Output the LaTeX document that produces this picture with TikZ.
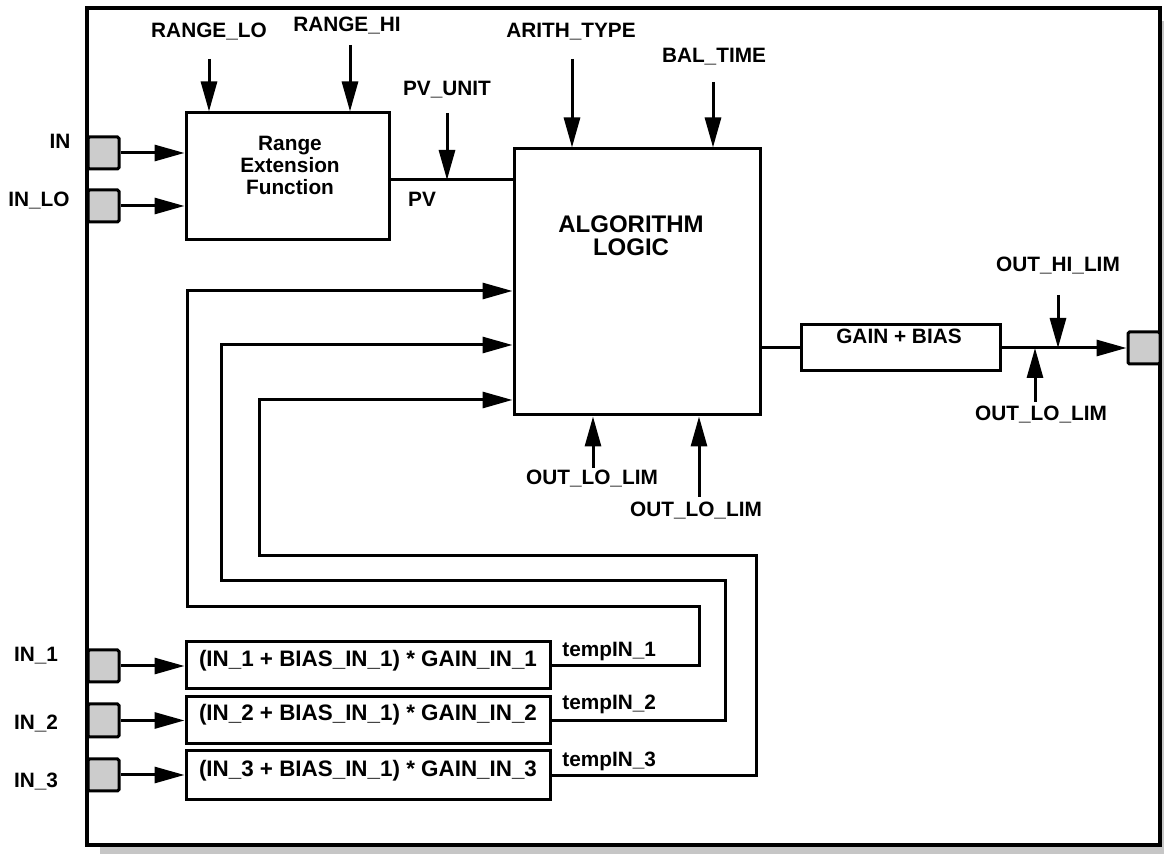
\documentclass[tikz,border=0pt]{standalone}
\usepackage{fontspec}
\setmainfont{Liberation Sans}
\usetikzlibrary{arrows.meta,fit}
\begin{document}
\begin{tikzpicture}[x=0.5pt,y=-0.5pt,
  lbl/.style={font=\fontsize{10.4}{11}\selectfont\bfseries, inner sep=0pt, anchor=base},
  box/.style={draw, line width=1.5pt, fill=white, inner sep=0pt},
  port/.style={draw, line width=1.5pt, fill=gray!40, inner sep=0pt, rounded corners=0.8pt},
  wire/.style={line width=1.5pt},
  arr/.style={wire, -{Triangle[length=15pt,width=8pt]}},
  formula/.style={box, font=\fontsize{11.2}{12}\selectfont\bfseries}
]
\useasboundingbox (0,0) rectangle (1164,854);
\fill[white] (0,0) rectangle (1164,854);
% frame with shadow
\fill[gray!45] (100,21) rectangle (1173,858);
\node[box, line width=2pt, fit={(87,8)(1160,845)}] (frame) {};

% ports
\node[port, fit={(88,137)(119,169)}] (pin) {};
\node[port, fit={(88,190)(119,222)}] (pinlo) {};
\node[port, fit={(88,650)(119,682)}] (pin1) {};
\node[port, fit={(88,704)(119,737)}] (pin2) {};
\node[port, fit={(88,759)(119,791)}] (pin3) {};
\node[port, fit={(1128,332)(1160,364)}] (pout) {};

% boxes
\node[box, fit={(186,113)(389,240)}] (range) {};
\node[box, fit={(514,149)(760,415)}] (alg) {};
\node[box, fit={(801,325)(1000,371)}] (gain) {};
\node[formula, fit={(186,642)(550,689)}] (b1) {\raisebox{-3.5pt}{(IN\_1 + BIAS\_IN\_1) * GAIN\_IN\_1}};
\node[formula, fit={(186,697)(550,744)}] (b2) {\raisebox{-2.5pt}{(IN\_2 + BIAS\_IN\_1) * GAIN\_IN\_2}};
\node[formula, fit={(186,751)(550,800)}] (b3) {\raisebox{-3pt}{(IN\_3 + BIAS\_IN\_1) * GAIN\_IN\_3}};

% box texts
\node[font=\fontsize{10.4}{11}\selectfont\bfseries, align=center, inner sep=0pt] (rtext) at (290,165) {Range\\Extension\\Function};
\node[font=\fontsize{12}{11.5}\selectfont\bfseries, align=center, inner sep=0pt] (atext) at (631,236) {ALGORITHM\\LOGIC};
\node[lbl] (gtext) at (899,344) {GAIN + BIAS};

% labels
\node[lbl] (lrlo) at (209,38) {RANGE\_LO};
\node[lbl] (lrhi) at (347,32) {RANGE\_HI};
\node[lbl] (lpvu) at (447,96) {PV\_UNIT};
\node[lbl] (lari) at (571,38) {ARITH\_TYPE};
\node[lbl] (lbal) at (714,63) {BAL\_TIME};
\node[lbl] (lpv) at (422,207) {PV};
\node[lbl] (lin) at (60,149) {IN};
\node[lbl] (linlo) at (39,207) {IN\_LO};
\node[lbl] (lohl) at (1058,272) {OUT\_HI\_LIM};
\node[lbl] (loll) at (1041,421) {OUT\_LO\_LIM};
\node[lbl] (lol1) at (592,485) {OUT\_LO\_LIM};
\node[lbl] (lol2) at (696,517) {OUT\_LO\_LIM};
\node[lbl] (lin1) at (36,662) {IN\_1};
\node[lbl] (lin2) at (36,730) {IN\_2};
\node[lbl] (lin3) at (36,788) {IN\_3};
\node[lbl, anchor=base west] (lt1) at (562,657) {tempIN\_1};
\node[lbl, anchor=base west] (lt2) at (562,710) {tempIN\_2};
\node[lbl, anchor=base west] (lt3) at (562,767) {tempIN\_3};

% free ends
\coordinate (crlo) at (209,59);
\coordinate (crhi) at (350,45);
\coordinate (cpvu) at (447,113);
\coordinate (pvj) at (447,180);
\coordinate (cari) at (572,59);
\coordinate (cbal) at (713,82);
\coordinate (col1) at (593,468);
\coordinate (col2) at (699,497);
\coordinate (cohl) at (1058,295);
\coordinate (coll) at (1035,402);
\coordinate (t1) at (699,607);
\coordinate (f1) at (187,291);
\coordinate (t2) at (725,581);
\coordinate (f2) at (221,345);
\coordinate (t3) at (756,556);
\coordinate (f3) at (259,400);

% input arrows
\draw[arr] (pin.east) -- (pin.east -| range.west);
\draw[arr] (pinlo.east) -- (pinlo.east -| range.west);
\draw[arr] (pin1.east) -- (pin1.east -| b1.west);
\draw[arr] (pin2.east) -- (pin2.east -| b2.west);
\draw[arr] (pin3.east) -- (pin3.east -| b3.west);

% parameter arrows
\draw[arr] (crlo) -- (crlo |- range.north);
\draw[arr] (crhi) -- (crhi |- range.north);
\draw[arr] (cpvu) -- (pvj);
\draw[arr] (cari) -- (cari |- alg.north);
\draw[arr] (cbal) -- (cbal |- alg.north);
\draw[arr] (col1) -- (col1 |- alg.south);
\draw[arr] (col2) -- (col2 |- alg.south);
\draw[arr] (cohl) -- (cohl |- gain.east);
\draw[arr] (coll) -- (coll |- gain.east);

% PV and output
\draw[wire] (range.east |- pvj) -- (alg.west |- pvj);
\draw[wire] (alg.east |- gain.west) -- (gain.west);
\draw[arr] (gain.east) -- (pout.west);

% feedback loops
\draw[arr] (b1.east) -| (t1) -| (f1) -- (f1 -| alg.west);
\draw[arr] (b2.east) -| (t2) -| (f2) -- (f2 -| alg.west);
\draw[arr] (b3.east) -| (t3) -| (f3) -- (f3 -| alg.west);
\end{tikzpicture}
\end{document}
